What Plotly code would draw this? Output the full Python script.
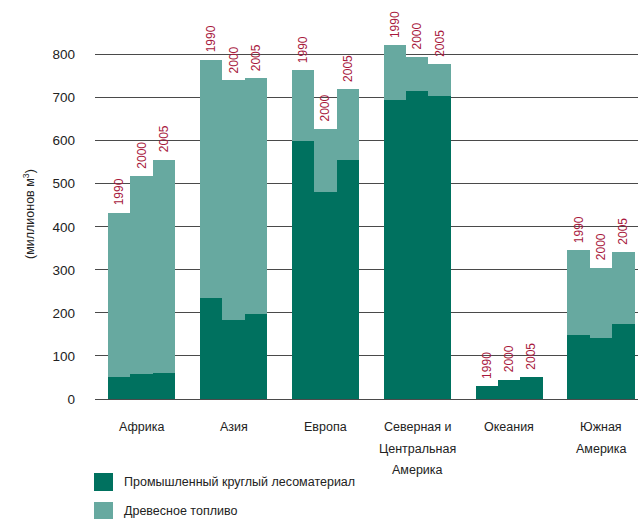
import plotly.graph_objects as go

# Regions (one list of text lines per region) and reporting years
regions = [["Африка"], ["Азия"], ["Европа"], ["Северная и", "Центральная", "Америка"],
           ["Океания"], ["Южная", "Америка"]]
years = ["1990", "2000", "2005"]

# Removals, million m3 (per region: 1990, 2000, 2005)
industrial = [
    [50, 57, 60],      # Африка
    [234, 183, 198],   # Азия
    [600, 482, 556],   # Европа
    [695, 716, 703],   # Северная и Центральная Америка
    [31, 45, 52],      # Океания
    [149, 141, 175],   # Южная Америка
]
woodfuel = [
    [383, 462, 496],
    [554, 557, 548],
    [165, 146, 165],
    [128, 79, 76],
    [0, 0, 0],
    [197, 164, 167],
]

y_ticks = [0, 100, 200, 300, 400, 500, 600, 700, 800]

DARK = "#00715F"
LIGHT = "#67A9A0"
RED = "#A8193D"
TEXT = "#222222"
FONT = "Liberation Sans, Arial, sans-serif"

GROUP_STEP = 4.1  # distance between region groups, in bar widths

xs, ind_vals, fuel_vals, totals, year_txt = [], [], [], [], []
for i in range(len(regions)):
    for j, yr in enumerate(years):
        xs.append(i * GROUP_STEP + (j - 1))
        ind_vals.append(industrial[i][j])
        fuel_vals.append(woodfuel[i][j])
        totals.append(industrial[i][j] + woodfuel[i][j])
        year_txt.append(yr)

fig = go.Figure()
fig.add_trace(go.Bar(x=xs, y=ind_vals, width=1.0, marker=dict(color=DARK, line=dict(width=0)),
                     name="Промышленный круглый лесоматериал", showlegend=False))
fig.add_trace(go.Bar(x=xs, y=fuel_vals, width=1.0, marker=dict(color=LIGHT, line=dict(width=0)),
                     name="Древесное топливо", showlegend=False))

# Year labels above each stacked bar
for x, t, yr in zip(xs, totals, year_txt):
    fig.add_annotation(x=x, y=t, xref="x", yref="y", text=yr, showarrow=False,
                       textangle=-90, yanchor="bottom", xanchor="center", yshift=5,
                       font=dict(family=FONT, size=12, color=RED))

W, H = 638, 519
ML, MR, MT, MB = 95, 0, 12, 120


def px_x(px):
    return (px - ML) / (W - ML - MR)


def px_y(py):
    return (H - MB - py) / (H - MT - MB)


# Region names under each group, one line at a time with wide leading
for i, lines in enumerate(regions):
    for k, line in enumerate(lines):
        fig.add_annotation(x=i * GROUP_STEP, y=px_y(427 + 21.7 * k), xref="x", yref="paper",
                           text=line, showarrow=False, xanchor="center", yanchor="middle",
                           font=dict(family=FONT, size=12.5, color=TEXT))

# Axis title
fig.add_annotation(x=px_x(19), y=px_y(214), xref="paper", yref="paper",
                   text="(миллионов м<sup>3</sup>)", showarrow=False, textangle=-90,
                   font=dict(family=FONT, size=12.5, color=TEXT))

# Legend
legend_items = [("Промышленный круглый лесоматериал", DARK, 473),
                ("Древесное топливо", LIGHT, 502)]
for label, color, top in legend_items:
    fig.add_shape(type="rect", xref="paper", yref="paper",
                  x0=px_x(94), x1=px_x(113), y0=px_y(top), y1=px_y(top + 18),
                  fillcolor=color, line=dict(width=0))
    fig.add_annotation(x=px_x(122), y=px_y(top + 9), xref="paper", yref="paper",
                       text=label, showarrow=False, xanchor="left", yanchor="middle",
                       font=dict(family=FONT, size=12.5, color=TEXT))

fig.update_layout(
    width=W, height=H,
    margin=dict(l=ML, r=MR, t=MT, b=MB),
    barmode="stack", bargap=0,
    plot_bgcolor="white", paper_bgcolor="white",
    font=dict(family=FONT, size=13, color=TEXT),
    showlegend=False,
)
fig.update_xaxes(range=[-2.08, 22.15], showticklabels=False, showgrid=False,
                 zeroline=False, showline=False, ticks="")
fig.update_yaxes(range=[0, 899], tickvals=y_ticks, showgrid=True, gridcolor="#4a4a4a",
                 gridwidth=1, zeroline=True, zerolinecolor="#4a4a4a", zerolinewidth=1,
                 showline=False, ticks="", ticklabelstandoff=19,
                 tickfont=dict(family=FONT, size=13.5, color=TEXT))

fig.write_html("out.html")
